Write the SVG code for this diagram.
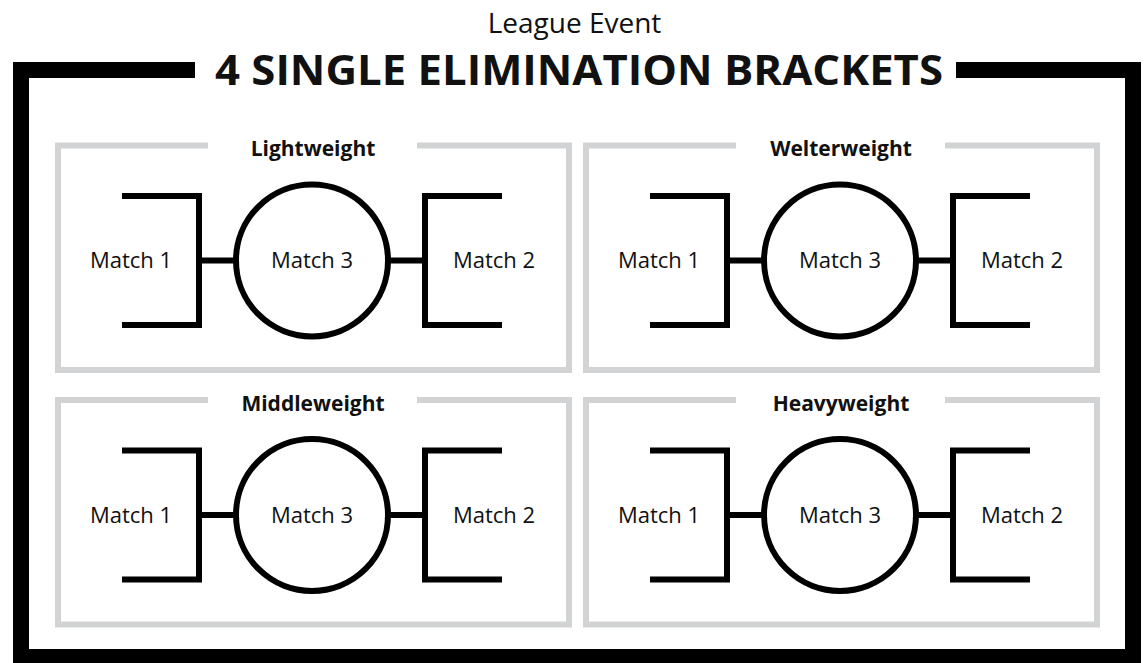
<svg xmlns="http://www.w3.org/2000/svg" width="1148" height="663" viewBox="0 0 1148 663">
  <style>
    .frame { fill: none; stroke: #000; stroke-width: 16; stroke-linejoin: miter; }
    .panel { fill: none; stroke: #d1d3d4; stroke-width: 6; stroke-linejoin: miter; }
    .bracket { fill: none; stroke: #000; stroke-width: 6; stroke-linejoin: miter; }
    .match3 { fill: #fff; stroke: #000; stroke-width: 6; }
    .link { stroke: #000; stroke-width: 6; }
    .label { font-family: "Open Sans", "Noto Sans", "Liberation Sans", sans-serif; font-size: 22px; fill: #111; text-anchor: middle; }
    .division { font-family: "Open Sans", "Noto Sans", "Liberation Sans", sans-serif; font-size: 21px; font-weight: bold; fill: #111; text-anchor: middle; }
    .heading { font-family: "Open Sans", "Noto Sans", "Liberation Sans", sans-serif; fill: #111; text-anchor: middle; }
  </style>

  <!-- outer frame, open at the top for the main title -->
  <g id="frame">
    <path class="frame" d="M956,70 H1133 V657 H21 V70 H195"/>
    <text class="heading" x="574.5" y="33" font-size="28">League Event</text>
    <text class="heading" x="579" y="85" font-size="41" font-weight="bold" textLength="728" lengthAdjust="spacingAndGlyphs">4 SINGLE ELIMINATION BRACKETS</text>
  </g>

  <!-- Lightweight -->
  <g id="lightweight">
    <path class="panel" d="M417,145.5 H569 V370 H58 V145.5 H208"/>
    <text class="division" x="313" y="156">Lightweight</text>
    <g id="lightweight-connectors">
      <line class="link" x1="199" y1="260.5" x2="237" y2="260.5"/>
      <line class="link" x1="387" y1="260.5" x2="425" y2="260.5"/>
    </g>
    <g id="lightweight-match1">
      <path class="bracket" d="M122,196 H199 V325 H122"/>
      <text class="label" x="131" y="268">Match 1</text>
    </g>
    <g id="lightweight-match3">
      <circle class="match3" cx="312" cy="260.5" r="76"/>
      <text class="label" x="312" y="268">Match 3</text>
    </g>
    <g id="lightweight-match2">
      <path class="bracket" d="M502,196 H425 V325 H502"/>
      <text class="label" x="494" y="268">Match 2</text>
    </g>
  </g>

  <!-- Welterweight -->
  <g id="welterweight" transform="translate(528,0)">
    <path class="panel" d="M417,145.5 H569 V370 H58 V145.5 H208"/>
    <text class="division" x="313" y="156">Welterweight</text>
    <g id="welterweight-connectors">
      <line class="link" x1="199" y1="260.5" x2="237" y2="260.5"/>
      <line class="link" x1="387" y1="260.5" x2="425" y2="260.5"/>
    </g>
    <g id="welterweight-match1">
      <path class="bracket" d="M122,196 H199 V325 H122"/>
      <text class="label" x="131" y="268">Match 1</text>
    </g>
    <g id="welterweight-match3">
      <circle class="match3" cx="312" cy="260.5" r="76"/>
      <text class="label" x="312" y="268">Match 3</text>
    </g>
    <g id="welterweight-match2">
      <path class="bracket" d="M502,196 H425 V325 H502"/>
      <text class="label" x="494" y="268">Match 2</text>
    </g>
  </g>

  <!-- Middleweight -->
  <g id="middleweight" transform="translate(0,254.5)">
    <path class="panel" d="M417,145.5 H569 V370 H58 V145.5 H208"/>
    <text class="division" x="313" y="156">Middleweight</text>
    <g id="middleweight-connectors">
      <line class="link" x1="199" y1="260.5" x2="237" y2="260.5"/>
      <line class="link" x1="387" y1="260.5" x2="425" y2="260.5"/>
    </g>
    <g id="middleweight-match1">
      <path class="bracket" d="M122,196 H199 V325 H122"/>
      <text class="label" x="131" y="268">Match 1</text>
    </g>
    <g id="middleweight-match3">
      <circle class="match3" cx="312" cy="260.5" r="76"/>
      <text class="label" x="312" y="268">Match 3</text>
    </g>
    <g id="middleweight-match2">
      <path class="bracket" d="M502,196 H425 V325 H502"/>
      <text class="label" x="494" y="268">Match 2</text>
    </g>
  </g>

  <!-- Heavyweight -->
  <g id="heavyweight" transform="translate(528,254.5)">
    <path class="panel" d="M417,145.5 H569 V370 H58 V145.5 H208"/>
    <text class="division" x="313" y="156">Heavyweight</text>
    <g id="heavyweight-connectors">
      <line class="link" x1="199" y1="260.5" x2="237" y2="260.5"/>
      <line class="link" x1="387" y1="260.5" x2="425" y2="260.5"/>
    </g>
    <g id="heavyweight-match1">
      <path class="bracket" d="M122,196 H199 V325 H122"/>
      <text class="label" x="131" y="268">Match 1</text>
    </g>
    <g id="heavyweight-match3">
      <circle class="match3" cx="312" cy="260.5" r="76"/>
      <text class="label" x="312" y="268">Match 3</text>
    </g>
    <g id="heavyweight-match2">
      <path class="bracket" d="M502,196 H425 V325 H502"/>
      <text class="label" x="494" y="268">Match 2</text>
    </g>
  </g>
</svg>
